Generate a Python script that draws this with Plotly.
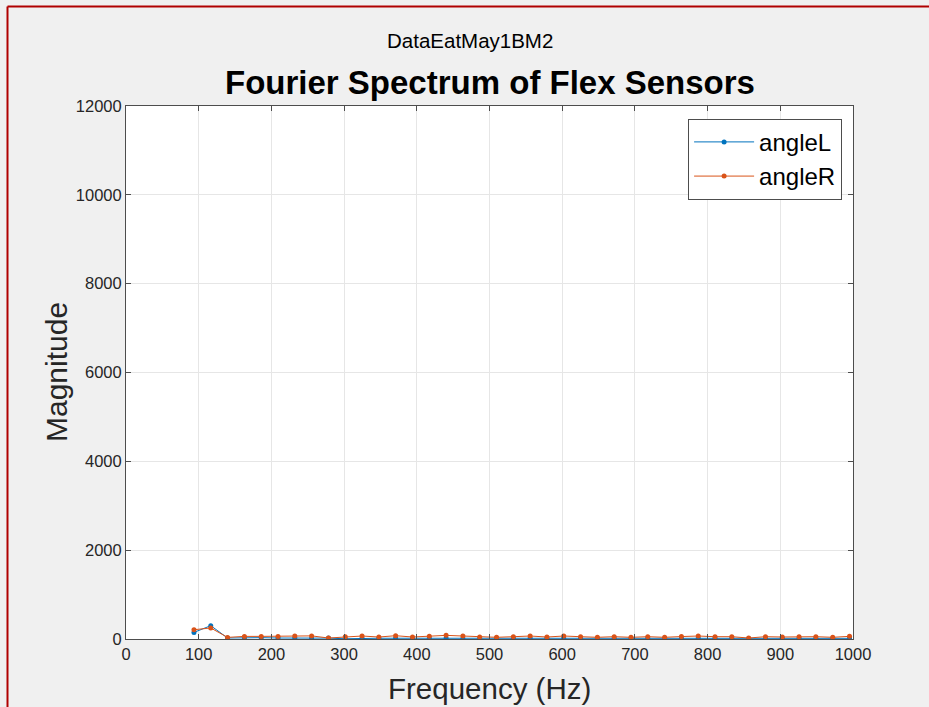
import plotly.graph_objects as go

freq = [93.5, 116.6, 139.7, 162.9, 186.0, 209.1, 232.2, 255.3, 278.5, 301.6,
        324.7, 347.8, 370.9, 394.1, 417.2, 440.3, 463.4, 486.5, 509.7, 532.8,
        555.9, 579.0, 602.1, 625.3, 648.4, 671.5, 694.6, 717.7, 740.9, 764.0,
        787.1, 810.2, 833.3, 856.5, 879.6, 902.7, 925.8, 948.9, 972.1, 995.2]

angleL = [149, 300, 22, 30, 30, 22, 22, 10, 20, 5,
          17, 17, 17, 17, 10, 17, 5, 17, 17, 15,
          15, 15, 15, 15, 12, 15, 12, 15, 12, 15,
          15, 15, 15, 12, 15, 15, 15, 15, 12, 15]

angleR = [209, 248, 36, 59, 59, 59, 66, 70, 22, 50,
          67, 45, 74, 45, 60, 82, 67, 45, 38, 52,
          67, 45, 67, 52, 38, 52, 38, 52, 38, 55,
          67, 52, 52, 22, 52, 45, 52, 52, 38, 60]

x_ticks = [0, 100, 200, 300, 400, 500, 600, 700, 800, 900, 1000]
y_ticks = [0, 2000, 4000, 6000, 8000, 10000, 12000]

FONT = "Liberation Sans, Arial, Helvetica, sans-serif"
AX = "#262626"

fig = go.Figure()
fig.add_trace(go.Scatter(x=freq, y=angleL, name="angleL", mode="lines+markers",
                         line=dict(color="#0072BD", width=1),
                         marker=dict(color="#0072BD", size=5)))
fig.add_trace(go.Scatter(x=freq, y=angleR, name="angleR", mode="lines+markers",
                         line=dict(color="#D95319", width=1),
                         marker=dict(color="#D95319", size=5)))

axis_common = dict(showline=True, linecolor="#4d4d4d", linewidth=1, mirror="ticks",
                   ticks="inside", ticklen=5, tickcolor="#4d4d4d",
                   showgrid=True, gridcolor="#e6e6e6", gridwidth=1, zeroline=False,
                   tickfont=dict(family=FONT, size=16.5, color=AX))

fig.update_xaxes(range=[0, 1000], tickvals=x_ticks, ticktext=[str(v) for v in x_ticks],
                 **axis_common)
fig.update_yaxes(range=[0, 12000], tickvals=y_ticks, ticktext=[str(v) for v in y_ticks],
                 **axis_common)

fig.update_layout(
    width=929, height=707,
    margin=dict(l=126, r=76, t=106, b=68),
    paper_bgcolor="#f0f0f0", plot_bgcolor="white",
    font=dict(family=FONT, color=AX),
    showlegend=True,
    hovermode=False,
    legend=dict(x=0.985, y=0.976, xanchor="right", yanchor="top",
                bgcolor="white", bordercolor="#4d4d4d", borderwidth=1,
                font=dict(family=FONT, size=24, color="black"),
                itemwidth=60, tracegroupgap=0),
    annotations=[
        dict(text="DataEatMay1BM2", x=0.473, y=(639 - 40) / 533, xref="paper", yref="paper",
             showarrow=False, font=dict(family=FONT, size=20.5, color="black"),
             xanchor="center", yanchor="middle"),
        dict(text="<b>Fourier Spectrum of Flex Sensors</b>", x=0.5, y=(639 - 82) / 533,
             xref="paper", yref="paper", showarrow=False,
             font=dict(family=FONT, size=33, color="black"),
             xanchor="center", yanchor="middle"),
        dict(text="Frequency (Hz)", x=0.5, y=(639 - 688) / 533, xref="paper", yref="paper",
             showarrow=False, font=dict(family=FONT, size=29.5, color=AX),
             xanchor="center", yanchor="middle"),
        dict(text="Magnitude", x=(56 - 126) / 727, y=(639 - 372) / 533, xref="paper",
             yref="paper", showarrow=False, textangle=-90,
             font=dict(family=FONT, size=30, color=AX),
             xanchor="center", yanchor="middle"),
    ],
    shapes=[
        dict(type="line", xref="paper", yref="paper",
             x0=(7.5 - 126) / 727, x1=(7.5 - 126) / 727,
             y0=(639 - 6.5) / 533, y1=(639 - 707) / 533,
             line=dict(color="#b00000", width=2)),
        dict(type="line", xref="paper", yref="paper",
             x0=(7.5 - 126) / 727, x1=(929 - 126) / 727,
             y0=(639 - 6.5) / 533, y1=(639 - 6.5) / 533,
             line=dict(color="#b00000", width=2)),
    ],
)

fig.write_html("out.html", config={"displayModeBar": False, "staticPlot": True},
               post_script="document.body.style.margin='0px';"
                           "document.body.style.overflow='hidden';"
                           "document.documentElement.style.overflow='hidden';")
